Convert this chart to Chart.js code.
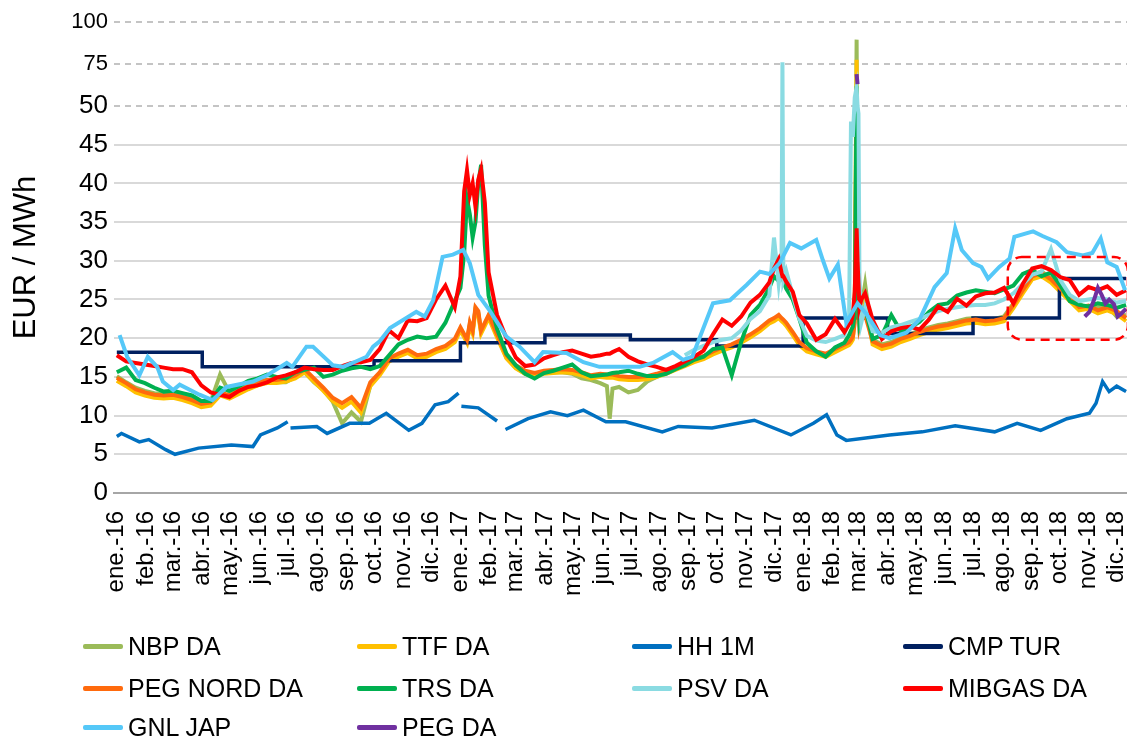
<!DOCTYPE html>
<html>
<head>
<meta charset="utf-8">
<script src="https://cdn.jsdelivr.net/npm/chart.js@4.4.1/dist/chart.umd.min.js"></script>
<style>
  html, body { margin: 0; padding: 0; background: #fff; }
  #wrap { position: relative; width: 1127px; height: 737px; }
  #legend .item { position: absolute; display: flex; align-items: center; height: 32px;
    font: 25px "Liberation Sans", Arial, sans-serif; color: #000; white-space: nowrap; }
  #legend .swatch { width: 40px; height: 5px; border-radius: 2px; margin-right: 5px; }
</style>
</head>
<body>
<div id="wrap">
  <canvas id="chart" width="1127" height="737"></canvas>
  <div id="legend"></div>
</div>
<script>
// days counted from 1 Jan 2016
const monthDays = [0, 31, 60, 91, 121, 152, 182, 213, 244, 274, 305, 335,
  366, 397, 425, 456, 486, 517, 547, 578, 609, 639, 670, 700,
  731, 762, 790, 821, 851, 882, 912, 943, 974, 1004, 1035, 1065];
const monthLabels = [
  "ene.-16", "feb.-16", "mar.-16", "abr.-16", "may.-16", "jun.-16", "jul.-16", "ago.-16", "sep.-16", "oct.-16", "nov.-16", "dic.-16",
  "ene.-17", "feb.-17", "mar.-17", "abr.-17", "may.-17", "jun.-17", "jul.-17", "ago.-17", "sep.-17", "oct.-17", "nov.-17", "dic.-17",
  "ene.-18", "feb.-18", "mar.-18", "abr.-18", "may.-18", "jun.-18", "jul.-18", "ago.-18", "sep.-18", "oct.-18", "nov.-18", "dic.-18"];

const yTickValues = [0, 5, 10, 15, 20, 25, 30, 35, 40, 45, 50, 75, 100];

// European hub day-ahead prices share one date grid
const hubDays = [
  0, 10, 20, 30, 40, 50, 60, 70, 80, 90,
  100, 110, 120, 130, 140, 150, 160, 170, 180,
  190, 200, 210, 220, 230, 240, 250, 260, 270,
  280, 290, 300, 310, 320, 330, 340, 350, 360,
  366, 370, 373, 376, 379, 382, 385, 388, 392, 396,
  405, 415, 425, 435, 445, 455, 465, 475, 485, 495,
  505, 515, 522, 525, 528, 535, 545, 555, 565, 575, 585, 595,
  605, 615, 625, 635, 645, 655, 665, 675, 685, 695,
  700, 705, 708, 709, 710, 713, 720, 727,
  735, 745, 755, 765, 775, 780,
  782, 784, 786, 788, 789, 790, 791, 793, 797,
  805, 815, 825, 835, 845, 855, 865, 875, 885, 895,
  905, 915, 925, 935, 945, 955, 965, 975, 985, 995,
  1005, 1015, 1025, 1035, 1045, 1055, 1065, 1075];

const nbp = [
  15.1, 14.3, 13.6, 13.2, 12.9, 12.8, 12.9, 12.6, 12.2, 11.7,
  11.8, 15.3, 13.0, 13.4, 14.0, 14.5, 14.6, 14.3, 14.3,
  15.0, 15.6, 14.3, 13.3, 11.8, 9.0, 10.4, 9.2, 13.9,
  15.4, 17.2, 17.8, 18.3, 17.6, 17.8, 18.4, 18.8, 19.7,
  21.2, 20.3, 19.6, 21.8, 20.8, 23.8, 23.3, 20.8, 21.8, 22.8,
  20.3, 17.5, 16.2, 15.4, 15.2, 15.5, 15.6, 15.6, 15.4, 14.8,
  14.6, 14.2, 13.8, 9.6, 13.5, 13.7, 13.0, 13.3, 14.4, 15.0, 15.5, 16.0,
  16.6, 17.1, 17.5, 18.1, 18.6, 19.0, 19.6, 20.3, 21.1, 22.1,
  22.4, 22.8, 22.4, 22.3, 22.2, 21.8, 20.6, 19.3,
  18.5, 18.1, 17.8, 18.4, 19.0, 19.4,
  19.6, 20.0, 24.0, 89.5, 35.0, 26.0, 23.0, 24.0, 27.0,
  19.8, 19.2, 19.5, 20.1, 20.5, 21.0, 21.4, 21.7, 21.9, 22.2,
  22.5, 22.6, 22.4, 22.5, 22.8, 24.5, 26.4, 28.2, 28.6, 27.8,
  26.6, 25.2, 24.5, 23.6, 24.0, 24.2, 22.8, 23.0];

const ttf = [
  14.5, 13.8, 13.0, 12.6, 12.3, 12.2, 12.3, 12.0, 11.6, 11.1,
  11.3, 12.6, 12.2, 12.8, 13.4, 13.9, 14.2, 14.2, 14.4,
  14.8, 15.6, 14.4, 13.2, 11.9, 11.0, 11.8, 10.4, 13.8,
  15.2, 17.0, 17.6, 18.1, 17.4, 17.6, 18.2, 18.6, 19.5,
  21.0, 20.1, 19.4, 21.6, 20.6, 23.6, 23.1, 20.6, 21.6, 22.6,
  20.1, 17.4, 16.1, 15.4, 15.1, 15.4, 15.5, 15.6, 15.5, 15.2,
  14.8, 15.0, 14.9, 14.9, 14.9, 14.7, 14.6, 14.6, 14.7, 15.0, 15.4, 15.9,
  16.4, 16.9, 17.3, 17.9, 18.4, 18.8, 19.4, 20.1, 20.9, 21.9,
  22.2, 22.6, 22.2, 22.1, 22.0, 21.6, 20.4, 19.1,
  18.3, 17.9, 17.6, 18.2, 18.8, 19.1,
  19.4, 19.8, 23.0, 77.5, 32.0, 25.0, 22.5, 23.0, 24.5,
  19.2, 18.6, 18.9, 19.5, 19.9, 20.4, 20.8, 21.1, 21.3, 21.6,
  21.9, 22.0, 21.8, 21.9, 22.2, 23.9, 25.8, 27.6, 28.0, 27.2,
  26.0, 24.8, 23.6, 23.8, 23.2, 23.6, 23.1, 22.2];

const pegNord = [
  14.9, 14.2, 13.4, 13.0, 12.7, 12.6, 12.7, 12.4, 12.0, 11.5,
  11.7, 13.0, 12.6, 13.2, 13.8, 14.3, 14.6, 14.6, 14.8,
  15.2, 16.0, 14.8, 13.6, 12.3, 11.6, 12.4, 11.0, 14.3,
  15.6, 17.4, 18.0, 18.5, 17.8, 18.0, 18.6, 19.0, 19.9,
  21.4, 20.5, 19.8, 22.0, 21.0, 24.0, 23.5, 21.0, 22.0, 23.0,
  20.5, 17.8, 16.5, 15.8, 15.5, 15.8, 15.9, 16.0, 15.9, 15.6,
  15.2, 15.4, 15.3, 15.3, 15.3, 15.1, 15.0, 15.0, 15.1, 15.4, 15.8, 16.3,
  16.8, 17.3, 17.7, 18.3, 18.8, 19.2, 19.8, 20.5, 21.3, 22.3,
  22.6, 23.0, 22.6, 22.5, 22.4, 22.0, 20.8, 19.5,
  18.7, 18.3, 18.0, 18.6, 19.2, 19.5,
  19.8, 20.2, 22.0, 50.0, 28.0, 24.0, 21.5, 22.5, 23.0,
  19.6, 19.0, 19.3, 19.9, 20.3, 20.8, 21.2, 21.5, 21.7, 22.0,
  22.3, 22.4, 22.2, 22.3, 22.6, 24.3, 26.2, 28.0, 28.4, 27.6,
  26.4, 25.2, 24.0, 24.2, 23.6, 24.0, 23.5, 22.6];

const trs = [
  15.6, 16.2, 14.6, 14.2, 13.6, 13.1, 13.2, 12.9, 12.6, 11.9,
  11.9, 13.6, 13.2, 13.8, 14.5, 14.8, 15.3, 15.0, 14.8,
  15.6, 15.9, 16.2, 15.0, 15.3, 15.8, 16.1, 16.3, 16.0,
  16.4, 17.8, 19.2, 19.8, 20.2, 20.0, 20.2, 22.0, 24.8,
  26.5, 31.0, 38.0, 36.0, 33.0, 35.0, 40.0, 42.4, 32.0, 25.5,
  21.2, 18.0, 16.5, 15.4, 14.8, 15.5, 15.8, 16.2, 16.6, 15.6,
  15.1, 15.2, 15.3, 15.4, 15.5, 15.6, 15.8, 15.4, 15.1, 15.1, 15.4, 16.0,
  16.5, 17.2, 17.6, 18.6, 18.8, 15.2, 19.5, 23.0, 24.3, 26.5,
  28.0, 27.4, 28.3, 27.8, 27.4, 26.4, 25.0, 22.5,
  19.4, 18.3, 17.6, 18.8, 19.4, 20.4,
  21.0, 21.5, 23.0, 61.8, 30.0, 25.0, 22.0, 23.0, 24.0,
  19.9, 20.4, 23.0, 20.9, 21.4, 22.1, 23.4, 24.3, 24.5, 25.5,
  25.9, 26.2, 26.0, 25.8, 26.3, 26.8, 28.3, 28.8, 28.0, 28.5,
  26.8, 24.8, 24.3, 24.1, 24.5, 24.3, 23.9, 24.3];

// PSV starts at hubDays[69] (day 605)
const psv = [
  17.8, 18.5, 19.0, 19.5, 19.8, 20.0, 21.0, 22.5, 23.5, 25.5,
  33.0, 27.0, 30.0, 76.0, 27.5, 28.7, 25.5, 22.5,
  20.3, 19.7, 19.5, 19.9, 20.4, 23.0,
  48.0, 46.0, 55.0, 61.0, 50.0, 49.0, 28.0, 22.0, 24.0,
  20.9, 20.7, 21.4, 21.7, 22.1, 22.5, 23.0, 23.5, 23.8, 24.0,
  24.2, 24.3, 24.3, 24.5, 25.0, 25.8, 27.0, 28.2, 28.6, 31.5,
  27.5, 25.6, 24.8, 25.0, 25.2, 25.0, 24.6, 24.8];

const mibgas = [
  17.8, 17.0, 16.8, 16.6, 16.4, 16.2, 16.0, 16.0, 15.6, 13.9,
  13.0, 12.7, 12.4, 13.2, 13.7, 13.9, 14.3, 14.9, 15.2,
  15.6, 16.2, 16.0, 15.9, 15.9, 16.4, 16.8, 16.9, 17.2,
  18.6, 21.0, 20.0, 22.3, 22.2, 22.6, 25.0, 26.8, 24.0,
  28.0, 39.0, 41.7, 38.5, 40.0, 37.0, 40.5, 41.8, 37.5, 28.5,
  23.0, 20.0, 17.5, 16.4, 16.6, 17.4, 17.8, 18.2, 18.4, 18.0,
  17.6, 17.8, 18.0, 18.0, 18.2, 18.6, 17.6, 17.0, 16.6, 16.3, 15.9, 16.4,
  17.0, 17.6, 18.4, 20.5, 22.4, 21.6, 22.8, 24.6, 25.6, 27.2,
  29.0, 30.2, 28.5, 28.0, 28.0, 27.3, 26.0, 23.0,
  21.9, 19.8, 20.5, 22.5, 20.8, 21.8,
  22.0, 23.0, 26.0, 34.2, 30.0, 27.0, 24.0, 25.0, 25.8,
  22.4, 19.9, 20.9, 21.3, 21.5, 21.1, 22.4, 24.1, 23.4, 25.1,
  24.2, 25.4, 25.8, 25.9, 26.5, 24.5, 27.0, 29.0, 29.3, 28.8,
  27.9, 27.5, 25.6, 26.6, 26.2, 26.7, 25.6, 26.2];

// Henry Hub front month
const hhDays = [0, 5, 24, 34, 52, 62, 87, 122, 145, 153, 171, 182, 183, 185, 213, 224, 248, 269, 287, 311,
  325, 339, 353, 364, 365, 367, 385, 405, 410, 414, 438, 462, 480, 497, 521, 542, 581, 598, 634, 679,
  718, 742, 756, 767, 777, 823, 858, 893, 935, 959, 984, 1012, 1036, 1043, 1050, 1057, 1065, 1075];
const hh = [7.3, 7.7, 6.6, 6.9, 5.6, 5.0, 5.8, 6.2, 6.0, 7.5, 8.4, 9.2, null, 8.4, 8.6, 7.7, 9.0, 9.0, 10.3, 8.1,
  9.0, 11.4, 11.8, 12.9, null, 11.2, 11.0, 9.3, null, 8.2, 9.6, 10.5, 10.0, 10.7, 9.2, 9.2, 7.9, 8.6, 8.4, 9.4,
  7.5, 9.0, 10.1, 7.5, 6.8, 7.5, 7.9, 8.7, 7.9, 9.0, 8.1, 9.6, 10.3, 11.6, 14.4, 13.1, 13.8, 13.1];

// quarterly regulated tariff (step line)
const cmpDays = [0, 91, 274, 366, 456, 547, 639, 731, 821, 912, 1004, 1075];
const cmp = [18.2, 16.3, 17.1, 19.4, 20.4, 19.8, 19.0, 22.6, 20.6, 22.6, 27.7, 27.7];

// Japanese LNG
const gnlDays = [3, 11, 24, 33, 43, 49, 60, 67, 88, 102, 117, 145, 160, 181, 187, 202, 209, 224, 230, 241,
  251, 266, 273, 280, 291, 319, 328, 337, 347, 358, 369, 376, 385, 397, 415, 429, 445, 454, 479, 497,
  514, 557, 571, 592, 603, 613, 635, 653, 671, 685, 695, 706, 717, 729, 745, 752, 759, 768, 777, 789,
  798, 813, 823, 841, 855, 871, 884, 893, 900, 912, 921, 928, 940, 951, 956, 976, 986, 1001, 1012, 1029,
  1039, 1048, 1055, 1065, 1074];
const gnl = [20.4, 17.6, 15.2, 17.6, 16.3, 14.4, 13.3, 14.0, 12.7, 12.0, 13.7, 14.4, 15.2, 16.8, 16.3, 18.9, 18.9, 17.2, 16.5, 16.3,
  16.8, 17.6, 18.9, 19.6, 21.3, 23.4, 22.8, 24.9, 30.5, 30.8, 31.4, 29.7, 25.6, 23.6, 20.2, 18.9, 16.9, 18.2, 18.1, 16.9,
  16.3, 16.3, 16.8, 18.2, 17.2, 17.6, 24.5, 24.9, 26.9, 28.6, 28.3, 29.7, 32.3, 31.6, 32.7, 30.1, 27.7, 29.5, 22.0, 24.5,
  23.2, 20.4, 20.0, 20.7, 22.4, 26.6, 28.4, 34.2, 31.4, 29.7, 29.2, 27.7, 29.2, 30.3, 33.1, 33.8, 33.2, 32.4, 31.1, 30.7,
  31.0, 32.9, 29.8, 29.2, 26.2];

// PEG (merged zone)
const pegDays = [788, 789, 900, 1031, 1036, 1041, 1045, 1049, 1053, 1057, 1062, 1066, 1070, 1075];
const peg = [69, 63, null, 22.8, 23.4, 25.0, 26.5, 25.6, 24.5, 25.0, 24.4, 22.8, 23.2, 23.8];

// area marked with the red dashed frame
const highlight = { from: 949, to: 1077, low: 19.8, high: 30.5 };

// values above 50 are drawn on a compressed band
const SQUEEZE = 0.217;
const toAxis = v => (v == null ? null : (v <= 50 ? v : 50 + (v - 50) * SQUEEZE));
const fromAxis = v => (v <= 50.01 ? v : 50 + (v - 50) / SQUEEZE);

const FONT = '"Liberation Sans", Arial, sans-serif';

const SERIES = [
  { label: "NBP DA", color: "#9bbb59", days: hubDays, values: nbp },
  { label: "TTF DA", color: "#ffc000", days: hubDays, values: ttf },
  { label: "HH 1M", color: "#0070c0", days: hhDays, values: hh, width: 3.5 },
  { label: "CMP TUR", color: "#002060", days: cmpDays, values: cmp, width: 3.5, stepped: true },
  { label: "PEG NORD DA", color: "#ff6a0d", days: hubDays, values: pegNord },
  { label: "TRS DA", color: "#00b050", days: hubDays, values: trs },
  { label: "PSV DA", color: "#8adbe2", days: hubDays.slice(hubDays.length - psv.length), values: psv },
  { label: "MIBGAS DA", color: "#ff0000", days: hubDays, values: mibgas },
  { label: "GNL JAP", color: "#55c8f8", days: gnlDays, values: gnl },
  { label: "PEG DA", color: "#7030a0", days: pegDays, values: peg },
];

const datasets = SERIES.map((s, i) => ({
  label: s.label,
  data: s.days.map((d, k) => ({ x: d, y: toAxis(s.values[k]) })),
  borderColor: s.color,
  backgroundColor: s.color,
  borderWidth: s.width || 4,
  stepped: s.stepped || false,
  pointRadius: 0,
  tension: 0,
  order: SERIES.length - i,   // later series drawn on top
}));

const highlightBox = {
  id: "highlightBox",
  afterDatasetsDraw(chart) {
    const { ctx, scales: { x, y } } = chart;
    const l = x.getPixelForValue(highlight.from), r = x.getPixelForValue(highlight.to);
    const t = y.getPixelForValue(highlight.high), b = y.getPixelForValue(highlight.low);
    const rad = 14;
    ctx.save();
    ctx.strokeStyle = "#ff0000";
    ctx.lineWidth = 2.5;
    ctx.setLineDash([9, 6]);
    ctx.beginPath();
    ctx.moveTo(l + rad, t);
    ctx.lineTo(r - rad, t);
    ctx.arcTo(r, t, r, t + rad, rad);
    ctx.lineTo(r, b - rad);
    ctx.arcTo(r, b, r - rad, b, rad);
    ctx.lineTo(l + rad, b);
    ctx.arcTo(l, b, l, b - rad, rad);
    ctx.lineTo(l, t + rad);
    ctx.arcTo(l, t, l + rad, t, rad);
    ctx.stroke();
    ctx.restore();
  }
};

new Chart(document.getElementById("chart"), {
  type: "line",
  data: { datasets },
  plugins: [highlightBox],
  options: {
    responsive: false,
    animation: false,
    layout: { padding: { top: 22, right: 0, bottom: 134, left: 0 } },
    plugins: { legend: { display: false }, tooltip: { enabled: false } },
    scales: {
      x: {
        type: "linear",
        min: -3,
        max: 1076,
        afterBuildTicks: s => { s.ticks = monthDays.map(v => ({ value: v })); },
        afterFit: s => { s.height = 110; s.paddingLeft = 0; s.paddingRight = 0; },
        ticks: {
          autoSkip: false,
          minRotation: 90,
          maxRotation: 90,
          padding: 10,
          color: "#000",
          font: { family: FONT, size: 24 },
          callback: v => monthLabels[monthDays.indexOf(v)],
        },
        grid: { display: false },
        border: { display: true, color: "#a6a6a6", width: 2 },
      },
      y: {
        min: 0,
        max: toAxis(100),
        afterBuildTicks: s => { s.ticks = yTickValues.map(v => ({ value: toAxis(v) })); },
        afterFit: s => { s.width = 114; s.paddingTop = 0; s.paddingBottom = 0; },
        ticks: {
          autoSkip: false,
          padding: 6,
          color: "#000",
          font: c => ({ family: FONT, size: c.tick && c.tick.value > 50.5 ? 22 : 26 }),
          callback: v => String(Math.round(fromAxis(v))),
        },
        grid: {
          drawTicks: false,
          color: c => (c.tick && c.tick.value === 0 ? "#a6a6a6" : (c.tick && c.tick.value >= 49.9 ? "#c4c4c4" : "#d9d9d9")),
          lineWidth: 2,
        },
        border: {
          display: false,
          dash: c => (c.tick && c.tick.value >= 49.9 ? [6, 5] : []),
        },
        title: {
          display: true,
          text: "EUR / MWh",
          color: "#000",
          font: { family: FONT, size: 31 },
          padding: { top: 8, bottom: 0 },
        },
      },
    },
  },
});

// legend: four columns, three rows
const legendCols = [83, 357, 632, 903];
const legendRows = [646, 688, 727];
const legend = document.getElementById("legend");
SERIES.forEach((s, i) => {
  const item = document.createElement("div");
  item.className = "item";
  item.style.left = legendCols[i % 4] + "px";
  item.style.top = (legendRows[Math.floor(i / 4)] - 16) + "px";
  item.innerHTML = `<span class="swatch" style="background:${s.color}"></span>${s.label}`;
  legend.appendChild(item);
});
</script>
</body>
</html>
